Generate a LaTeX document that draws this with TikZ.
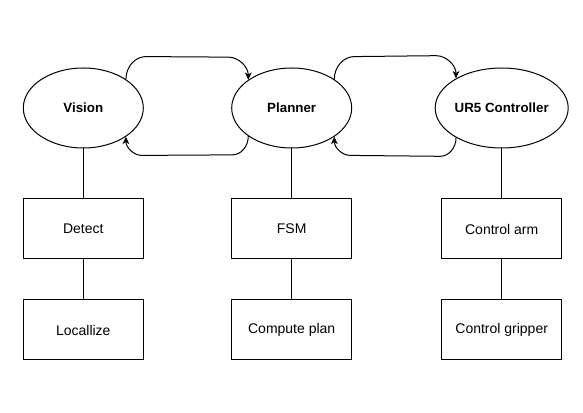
\documentclass[tikz,border=0pt]{standalone}
\usepackage{fontspec}
\setmainfont{Liberation Sans}
\usetikzlibrary{shapes.geometric,positioning,arrows.meta}

\tikzset{
  module/.style={draw,ellipse,line width=0.75pt,minimum width=90pt,minimum height=60pt,inner sep=0pt,font=\bfseries},
  task/.style={draw,rectangle,line width=0.75pt,minimum width=90pt,minimum height=45pt,inner sep=0pt},
  link/.style={line width=0.75pt},
  flow/.style={line width=0.75pt,-{Stealth[length=5.5pt,width=5pt,inset=1.5pt]}}
}

\begin{document}
\begin{tikzpicture}[x=0.75pt,y=-0.75pt,font=\fontsize{10.5pt}{12.5pt}\selectfont]
\useasboundingbox (0,0) rectangle (583,413);
\node[module] (vision) at (83.3,108) {Vision};
\node[module] (planner) at (291.7,108) {Planner};
\node[module] (ur5) at (501.7,108) {UR5 Controller};
\node[task,below=37.5pt of vision] (detect) {Detect};
\node[task,below=30pt of detect] (localize) {Locallize};
\node[task,below=37.5pt of planner] (fsm) {FSM};
\node[task,below=30pt of fsm] (plan) {Compute plan};
\node[task,below=37.5pt of ur5] (arm) {Control arm};
\node[task,below=30pt of arm] (gripper) {Control gripper};
\draw[link] (vision) -- (detect);
\draw[link] (detect) -- (localize);
\draw[link] (planner) -- (fsm);
\draw[link] (fsm) -- (plan);
\draw[link] (ur5) -- (arm);
\draw[link] (arm) -- (gripper);
% upper arcs go right, lower arcs come back
\draw[flow] (vision.34) .. controls +(0pt,9.5pt) and +(-8pt,0pt) .. ++(15pt,17pt)
  -- ([xshift=-15pt,yshift=17pt]planner.147) .. controls +(8pt,0pt) and +(0pt,9.5pt) .. (planner.147);
\draw[flow] (planner.213) .. controls +(0pt,-7.7pt) and +(6.6pt,0pt) .. ++(-12pt,-14pt)
  -- ([xshift=12pt,yshift=-14pt]vision.-34) .. controls +(-6.6pt,0pt) and +(0pt,-7.7pt) .. (vision.-34);
\draw[flow] (planner.34) .. controls +(0pt,9.5pt) and +(-8pt,0pt) .. ++(15pt,17pt)
  -- ([xshift=-15pt,yshift=17pt]ur5.147) .. controls +(8pt,0pt) and +(0pt,9.5pt) .. (ur5.147);
\draw[flow] (ur5.213) .. controls +(0pt,-7.7pt) and +(6.6pt,0pt) .. ++(-12pt,-14pt)
  -- ([xshift=12pt,yshift=-14pt]planner.-34) .. controls +(-6.6pt,0pt) and +(0pt,-7.7pt) .. (planner.-34);
\end{tikzpicture}
\end{document}
